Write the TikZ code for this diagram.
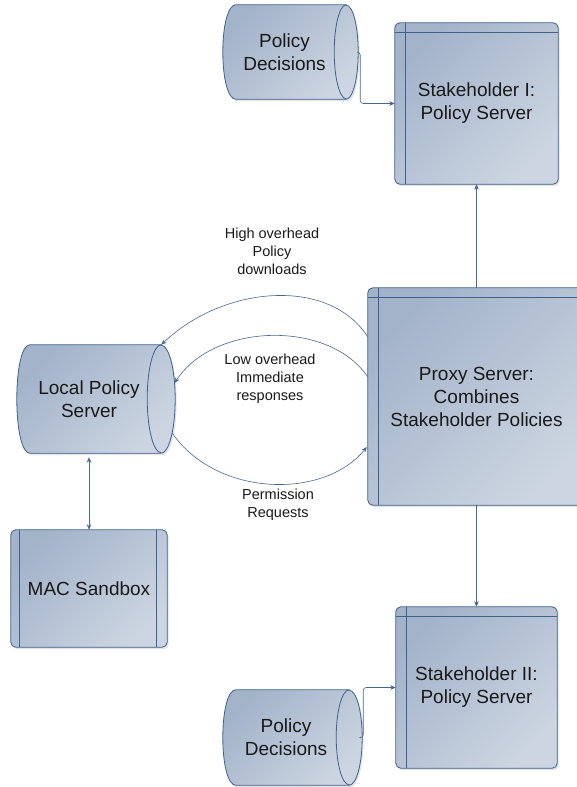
\documentclass[tikz,border=0pt]{standalone}
\usepackage{fontspec}
\setmainfont{Liberation Sans}
\usetikzlibrary{arrows.meta,calc,backgrounds,shadows}

\definecolor{fillA}{RGB}{163,179,202}
\definecolor{fillB}{RGB}{204,213,225}
\definecolor{edgec}{RGB}{62,97,143}
\definecolor{linec}{RGB}{72,102,142}
\definecolor{txtc}{RGB}{25,25,25}

\tikzset{
  shapebox/.style={rectangle, draw=none, inner sep=0pt, align=center, text=txtc,
    font=\fontsize{19}{23}\selectfont},
  lbl/.style={inner sep=0pt, align=center, text=txtc, font=\fontsize{14.5}{18}\selectfont},
  body/.style={draw=edgec, line width=0.8pt, top color=fillA, bottom color=fillB,
    shading angle=45, drop shadow={shadow xshift=1.5pt, shadow yshift=-2pt, opacity=0.22}},
  innerline/.style={draw=edgec, line width=0.8pt},
  conn/.style={draw=linec, line width=0.6pt, -{Stealth[length=5.5pt,width=4.5pt]}},
  conntwo/.style={draw=linec, line width=0.6pt, {Stealth[length=5.5pt,width=4.5pt]}-{Stealth[length=5.5pt,width=4.5pt]}},
}

% cylinder background for node #1, ellipse radii #2 and #3
\newcommand\cylshape[3]{%
  \path[body] (#1.north east) -- ($(#1.north west)+(13,0)$)
    .. controls ($(#1.north west)+(5,0)$) and ($(#1.west)+(0,0.55*#3)$) .. (#1.west)
    .. controls ($(#1.west)+(0,-0.55*#3)$) and ($(#1.south west)+(5,0)$) .. ($(#1.south west)+(13,0)$)
    -- (#1.south east) arc[start angle=-90,end angle=90,x radius=#2pt,y radius=#3pt] -- cycle;
  \draw[innerline] (#1.north east) arc[start angle=90,end angle=270,x radius=#2pt,y radius=#3pt];
}
% rounded box with left inner line and top inner line
\newcommand\srvshape[1]{%
  \path[body, rounded corners=5pt] (#1.south west) rectangle (#1.north east);
  \draw[innerline] ($(#1.north west)+(11,0)$) -- ($(#1.south west)+(11,0)$);
  \draw[innerline] ($(#1.north west)+(0,-10)$) -- ($(#1.north east)+(0,-10)$);
}

\begin{document}
\begin{tikzpicture}[x=1pt,y=1pt]
  \clip (0,0) rectangle (577,-787);
  \useasboundingbox (0,0) rectangle (577,-787);

  % nodes
  \node[shapebox, minimum width=123pt, minimum height=94pt] (pd1) at (284.5,-52) {Policy\\Decisions};
  \node[shapebox, minimum width=163pt, minimum height=161pt] (sh1) at (476.5,-103.5) {Stakeholder I:\\Policy Server};
  \node[shapebox, minimum width=217pt, minimum height=217pt] (proxy) at (476.5,-396.5) {Proxy Server:\\Combines\\Stakeholder Policies};
  \node[shapebox, minimum width=144pt, minimum height=108pt] (lps) at (89,-399) {Local Policy\\Server};
  \node[shapebox, minimum width=156pt, minimum height=117pt] (mac) at (89,-588.5) {MAC Sandbox};
  \node[shapebox, minimum width=161pt, minimum height=161pt] (sh2) at (476.5,-687.5) {Stakeholder II:\\Policy Server};
  \node[shapebox, minimum width=126pt, minimum height=95pt] (pd2) at (286,-737.5) {Policy\\Decisions};

  \node[lbl] (lhigh) at (272,-251) {High overhead\\Policy\\downloads};
  \node[lbl] (llow) at (270,-379) {Low overhead\\Immediate\\responses};
  \node[lbl] (lperm) at (278,-504.5) {Permission\\Requests};

  \begin{scope}[on background layer]
    \cylshape{pd1}{12}{47}
    \cylshape{pd2}{13}{47.5}
    \cylshape{lps}{14}{54}
    \srvshape{sh1}
    \srvshape{sh2}
    \srvshape{proxy}
    \path[body, rounded corners=5pt] (mac.south west) rectangle (mac.north east);
    \draw[innerline] ($(mac.north west)+(9,0)$) -- ($(mac.south west)+(9,0)$);
    \draw[innerline] ($(mac.north east)+(-11,0)$) -- ($(mac.south east)+(-11,0)$);
  \end{scope}

  % connectors
  \draw[conn, rounded corners=3pt] ($(pd1.east)+(11,0)$) -- ++(3,0) |- (sh1.west);
  \draw[conn, rounded corners=3pt] ($(pd2.east)+(12,0)$) -- ++(2,0) |- (sh2.west);
  \draw[conn] (proxy.north) -- (sh1.south);
  \draw[conn] (proxy.south) -- (sh2.north);
  \draw[conntwo] ($(mac.north |- lps.south)+(0,-4)$) -- (mac.north);

  \draw[conn] ([yshift=59.5pt]proxy.west) .. controls +(-38,60) and +(63,60) .. (lps.north east);
  \draw[conn] ([yshift=19.5pt]proxy.west) .. controls +(-38,57) and +(40,61) .. ($(lps.east)+(13.4,16)$);
  \draw[conn] ($(lps.east)+(11,-34)$) .. controls +(44,-64) and +(-43,-53) .. ([yshift=-50.5pt,xshift=-1pt]proxy.west);
\end{tikzpicture}
\end{document}
